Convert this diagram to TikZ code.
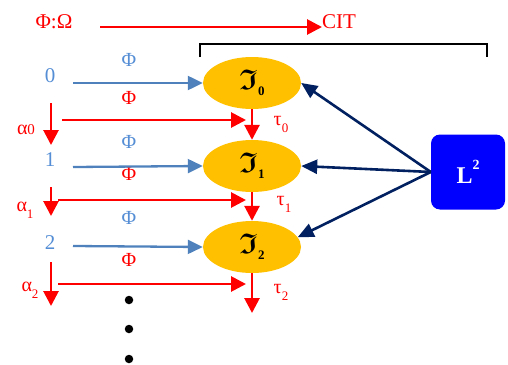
\documentclass[tikz,border=0pt]{standalone}
\usepackage{amssymb,amsmath}
\usepackage{fontspec}
\setmainfont{Liberation Serif}
\usetikzlibrary{arrows.meta,shapes.geometric}
\definecolor{myred}{HTML}{FF0000}
\definecolor{steel}{HTML}{4F81BD}
\definecolor{steeltxt}{HTML}{558ED5}
\definecolor{navy}{HTML}{002060}
\definecolor{gold}{HTML}{FFC000}
\definecolor{pureblue}{HTML}{0000FF}
\newcommand{\fs}[1]{\fontsize{#1}{#1}\selectfont}
\newcommand{\frakJ}[1]{\scalebox{1.3}{$\boldsymbol{\mathfrak{I}}$}\raisebox{-6pt}{\fs{13}\bfseries #1}}
\newcommand{\lowsub}[3]{#1\raisebox{-#3}{\fs{13}#2}}
\begin{document}
\begin{tikzpicture}[x=1pt,y=-1pt,
  redtxt/.style={text=myred,font=\fs{20},inner sep=0pt},
  bluetxt/.style={text=steeltxt,font=\fs{20},inner sep=0pt},
  state/.style={ellipse,fill=gold,minimum width=98pt,minimum height=52pt,inner sep=0pt,font=\fs{22}},
  redarr/.style={draw=myred,line width=2.8pt,-{Triangle[length=15pt,width=15pt]}},
  bluearr/.style={draw=steel,line width=2.3pt,-{Triangle[length=15pt,width=14pt]}},
  navyarr/.style={draw=navy,line width=2.6pt,-{Triangle[length=16pt,width=14pt]}},
  dot/.style={circle,fill=black,minimum size=8.5pt,inner sep=0pt}]
\useasboundingbox (0,0) rectangle (508,364);

% header: Phi:Omega and the arrow to CIT
\node[redtxt,font=\fs{21}] (phiomega) at (54,22) {Φ:Ω};
\node[redtxt,font=\fs{21},anchor=west] (cit) at (322,22) {CIT};
\coordinate (citstart) at (100,27);
\draw[redarr] (citstart) -- (cit.west |- citstart);

% bracket over the states
\draw[black,line width=1.4pt] (200,57) -- (200,44) -- (487,44) -- (487,57);

% states
\node[state] (J0) at (252,83) {\frakJ{0}};
\node[state] (J1) at (252,166) {\frakJ{1}};
\node[state] (J2) at (252,247) {\frakJ{2}};

% the L^2 box
\node[rectangle,rounded corners=9pt,fill=pureblue,minimum width=74pt,minimum height=75pt,
      text=white,inner sep=0pt] (L) at (468,172)
      {\fs{24}\bfseries L\raisebox{14pt}{\fs{14}2}};

% left column indices
\node[bluetxt,font=\fs{21}] (n0) at (50,76) {0};
\node[bluetxt,font=\fs{21}] (n1) at (50,160) {1};
\node[bluetxt,font=\fs{21}] (n2) at (50,243) {2};

% Phi labels
\node[bluetxt] (pb0) at (129,60) {Φ};
\node[redtxt] (pr0) at (129,98) {Φ};
\node[bluetxt] (pb1) at (129,142) {Φ};
\node[redtxt] (pr1) at (129,174) {Φ};
\node[bluetxt] (pb2) at (129,218) {Φ};
\node[redtxt] (pr2) at (129,260) {Φ};

% blue arrows into the states
\coordinate (b0) at (73,83);
\coordinate (b1) at (73,167);
\coordinate (b2) at (73,246);
\draw[bluearr] (b0) -- (J0.west);
\draw[bluearr] (b1) -- (J1.west);
\draw[bluearr] (b2) -- (J2.west);

% red chain between the states
\coordinate (tend) at (252,313);
\draw[redarr] (J0.south) -- (J1.north);
\draw[redarr] (J1.south) -- (J2.north);
\draw[redarr] (J2.south) -- (tend);
\node[redtxt,font=\fs{20}] (t0) at (281,124) {\lowsub{τ}{0}{7pt}};
\node[redtxt,font=\fs{20}] (t1) at (284,204) {\lowsub{τ}{1}{7pt}};
\node[redtxt,font=\fs{20}] (t2) at (281,292) {\lowsub{τ}{2}{7pt}};

% left red steps
\coordinate (a0s) at (51,103); \coordinate (a0e) at (51,145);
\coordinate (a1s) at (51,187); \coordinate (a1e) at (51,216);
\coordinate (a2s) at (51,262); \coordinate (a2e) at (51,306);
\draw[redarr] (a0s) -- (a0e);
\draw[redarr] (a1s) -- (a1e);
\draw[redarr] (a2s) -- (a2e);
\node[redtxt,font=\fs{20}] (al0) at (26,130) {α\fs{15}0};
\node[redtxt,font=\fs{20}] (al1) at (25,210) {\lowsub{α}{1}{7pt}};
\node[redtxt,font=\fs{20}] (al2) at (30,290) {\lowsub{α}{2}{7pt}};

% horizontal red arrows
\coordinate (h0s) at (62,120); \coordinate (h0e) at (246,120);
\coordinate (h1s) at (58,200); \coordinate (h1e) at (246,200);
\coordinate (h2s) at (58,284); \coordinate (h2e) at (246,284);
\draw[redarr] (h0s) -- (h0e);
\draw[redarr] (h1s) -- (h1e);
\draw[redarr] (h2s) -- (h2e);

% continuation dots
\node[dot] (d0) at (129,300) {};
\node[dot] (d1) at (129,329) {};
\node[dot] (d2) at (129,359) {};

% L^2 feeds every state
\draw[navyarr] (L.west) -- (J0.east);
\draw[navyarr] (L.west) -- (J1.east);
\draw[navyarr] (L.west) -- (J2.12);
\end{tikzpicture}
\end{document}
